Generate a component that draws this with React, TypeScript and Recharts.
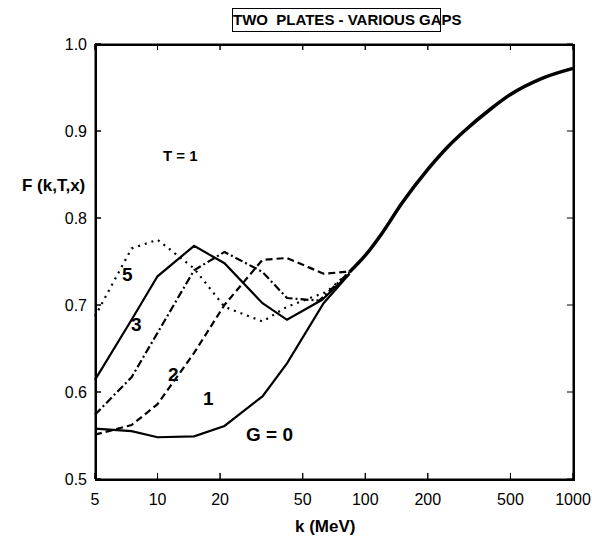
import React from 'react';
import { LineChart, Line, XAxis, YAxis, ReferenceLine } from 'recharts';

// k (MeV) sample points and F(k,T,x) per gap
const tailK = [84, 100, 120, 150, 200, 250, 300, 400, 500, 700, 1000];
const tailF = [0.738, 0.757, 0.782, 0.817, 0.856, 0.882, 0.9, 0.925, 0.942, 0.96, 0.972];

const g0K = [5, 7.5, 10, 15, 21, 32, 42, 63, 84];
const g0F = [0.558, 0.555, 0.548, 0.549, 0.561, 0.595, 0.633, 0.702, 0.736];

const g1K = [5, 7.5, 10, 15, 21, 32, 42, 63, 80, 84];
const g1F = [0.551, 0.562, 0.586, 0.645, 0.7, 0.752, 0.754, 0.736, 0.738, 0.74];

const g2K = [5, 7.5, 10, 15, 21, 32, 42, 60, 84];
const g2F = [0.574, 0.617, 0.668, 0.74, 0.761, 0.738, 0.708, 0.705, 0.738];

const g3K = [5, 7.5, 10, 15, 21, 32, 42, 62, 84];
const g3F = [0.614, 0.683, 0.733, 0.768, 0.748, 0.702, 0.683, 0.706, 0.736];

const g5K = [5, 7.5, 10, 15, 21, 32, 42, 65, 84];
const g5F = [0.687, 0.765, 0.775, 0.742, 0.698, 0.681, 0.698, 0.715, 0.738];

const xTicks = [5, 10, 20, 50, 100, 200, 500, 1000];
const yTicks = [0.5, 0.6, 0.7, 0.8, 0.9, 1.0];

const toRows = (ks: number[], fs: number[]) => ks.map((k, i) => ({ k, f: fs[i] }));

const tailRows = toRows(tailK, tailF);

const series = [
  { name: 'G=0', rows: toRows(g0K, g0F), dash: undefined },
  { name: 'G=1', rows: toRows(g1K, g1F), dash: '7 4' },
  { name: 'G=2', rows: toRows(g2K, g2F), dash: '8 3 2 3' },
  { name: 'G=3', rows: toRows(g3K, g3F), dash: undefined },
  { name: 'G=5', rows: toRows(g5K, g5F), dash: '2 5' },
];

const font = '"Liberation Sans", Arial, sans-serif';
// tick length in data units (about 6px)
const yTickLen = 0.007;
const xTickFactor = 1.07;

const txt = (left: number, top: number, size = 15): React.CSSProperties => ({
  position: 'absolute',
  left,
  top,
  fontFamily: font,
  fontWeight: 'bold',
  fontSize: size,
  whiteSpace: 'pre',
  lineHeight: 1,
});

const BottomLabel = (p: any) => (
  <text x={p.x} y={p.y + 26} textAnchor="middle" fill="#000" fontSize={16} fontFamily={font}>
    {p.payload.value}
  </text>
);
const LeftLabel = (p: any) => (
  <text x={p.x - 8} y={p.y + 6} textAnchor="end" fill="#000" fontSize={16} fontFamily={font}>
    {Number(p.payload.value).toFixed(1)}
  </text>
);
const NoLabel = () => <g />;

export default function App() {
  return (
    <div style={{ position: 'absolute', left: 0, top: 0, width: 592, height: 547, background: '#fff' }}>
      <LineChart width={592} height={547} data={tailRows} margin={{ top: 24, right: 0, bottom: 38, left: 55 }}>
        <XAxis
          dataKey="k"
          type="number"
          scale="log"
          domain={[5, 1000]}
          ticks={xTicks}
          interval={0}
          height={30}
          tickSize={-6}
          tickMargin={6}
          tick={BottomLabel}
          stroke="#000"
        />
        <XAxis
          xAxisId="t"
          orientation="top"
          dataKey="k"
          type="number"
          scale="log"
          domain={[5, 1000]}
          ticks={xTicks}
          interval={0}
          height={20}
          tickSize={-6}
          tick={NoLabel}
          stroke="#000"
        />
        <YAxis
          type="number"
          domain={[0.5, 1]}
          ticks={yTicks}
          interval={0}
          width={40}
          tickSize={-6}
          tickMargin={6}
          tick={LeftLabel}
          stroke="#000"
        />
        <YAxis
          yAxisId="r"
          orientation="right"
          type="number"
          domain={[0.5, 1]}
          ticks={yTicks}
          interval={0}
          width={19}
          tickSize={-6}
          tick={NoLabel}
          stroke="#000"
        />
        {xTicks.map((t) => (
          <ReferenceLine key={'b' + t} segment={[{ x: t, y: 0.5 }, { x: t, y: 0.5 + yTickLen }]} stroke="#000" ifOverflow="visible" />
        ))}
        {xTicks.map((t) => (
          <ReferenceLine key={'t' + t} segment={[{ x: t, y: 1 }, { x: t, y: 1 - yTickLen }]} stroke="#000" ifOverflow="visible" />
        ))}
        {yTicks.map((t) => (
          <ReferenceLine key={'l' + t} segment={[{ x: 5, y: t }, { x: 5 * xTickFactor, y: t }]} stroke="#000" ifOverflow="visible" />
        ))}
        {yTicks.map((t) => (
          <ReferenceLine key={'r' + t} segment={[{ x: 1000, y: t }, { x: 1000 / xTickFactor, y: t }]} stroke="#000" ifOverflow="visible" />
        ))}
        {series.map((s) => (
          <Line
            key={s.name}
            data={s.rows}
            dataKey="f"
            type="linear"
            stroke="#000"
            strokeWidth={2.2}
            strokeDasharray={s.dash}
            dot={false}
            isAnimationActive={false}
          />
        ))}
        <Line
          dataKey="f"
          type="monotone"
          stroke="#000"
          strokeWidth={3.5}
          dot={false}
          isAnimationActive={false}
        />
      </LineChart>
      <div
        style={{
          position: 'absolute',
          left: 95,
          top: 44,
          width: 476,
          height: 433,
          border: '2px solid #000',
          pointerEvents: 'none',
        }}
      />
      <div
        style={{
          position: 'absolute',
          left: 232,
          top: 8,
          width: 207,
          height: 22,
          border: '1.5px solid #000',
          textAlign: 'center',
          fontFamily: font,
          fontWeight: 'bold',
          fontSize: 15,
          lineHeight: '22px',
          whiteSpace: 'pre',
        }}
      >
        {'TWO  PLATES - VARIOUS GAPS'}
      </div>
      <div style={txt(22, 177, 17)}>F (k,T,x)</div>
      <div style={txt(163, 148, 15)}>T = 1</div>
      <div style={txt(295, 518, 17)}>k (MeV)</div>
      <div style={txt(122, 265, 19)}>5</div>
      <div style={txt(131, 315, 19)}>3</div>
      <div style={txt(168, 365, 19)}>2</div>
      <div style={txt(203, 389, 19)}>1</div>
      <div style={txt(246, 425, 19)}>G = 0</div>
    </div>
  );
}
